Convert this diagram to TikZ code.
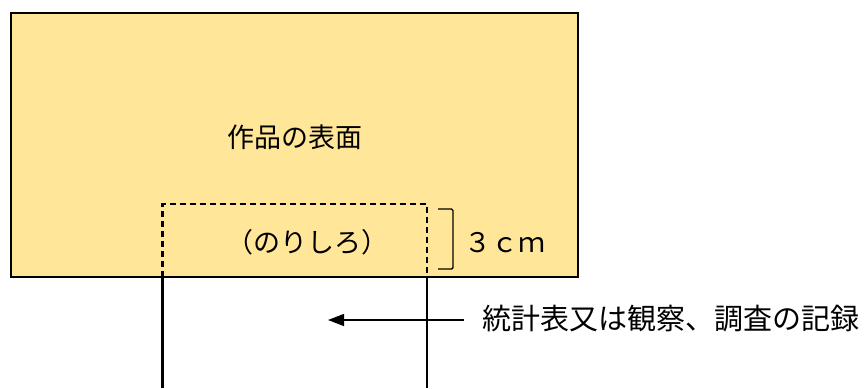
\documentclass[tikz,border=0pt]{standalone}
\usepackage{fontspec}
\newfontfamily\jp{Noto Sans CJK JP}
\usetikzlibrary{arrows.meta}
\definecolor{paper}{HTML}{FFE699}
\tikzset{
  sheet/.style={draw=black, fill=paper, line width=2.2pt},
  glueline/.style={draw=black, line width=2.2pt, dash pattern=on 6pt off 4pt},
  stripline/.style={draw=black, line width=2.2pt},
  bracketline/.style={draw=black, line width=1.4pt},
  pointer/.style={draw=black, line width=1.4pt, -{Triangle[length=16pt,width=12pt]}},
  txt/.style={font=\jp\fontsize{27}{30}\selectfont, inner sep=0pt, text=black},
}
\begin{document}
\begin{tikzpicture}[x=1pt,y=-1pt]
\useasboundingbox (0,0) rectangle (864,388);
% main sheet
\draw[sheet] (11,13) rectangle (578,277);
\node[txt] (surface) at (295,137) {作品の表面};
% glue margin (dashed)
\coordinate (gl) at (162.5,277);
\coordinate (gr) at (427,277);
\draw[glueline] (gl) -- (162.5,204) -- (427,204) -- (gr);
\node[txt] (noris) at (307,242) {（のりしろ）};
% attached strip
\coordinate (sl) at (162.5,388);
\coordinate (sr) at (427,388);
\draw[stripline] (gl) -- (sl);
\draw[stripline] (gr) -- (sr);
% bracket and size
\draw[bracketline, rounded corners=1.5pt] (438,209) -- (453,209) -- (453,269) -- (438,269);
\node[txt, anchor=center] (size) at (505,243) {３ｃｍ};
% label and arrow
\node[txt, anchor=west, font=\jp\fontsize{29}{32}\selectfont] (rec) at (482,319) {統計表又は観察、調査の記録};
\coordinate (tail) at (464,320);
\coordinate (tip) at (328,320);
\draw[pointer] (tail) -- (tip);
\end{tikzpicture}
\end{document}
